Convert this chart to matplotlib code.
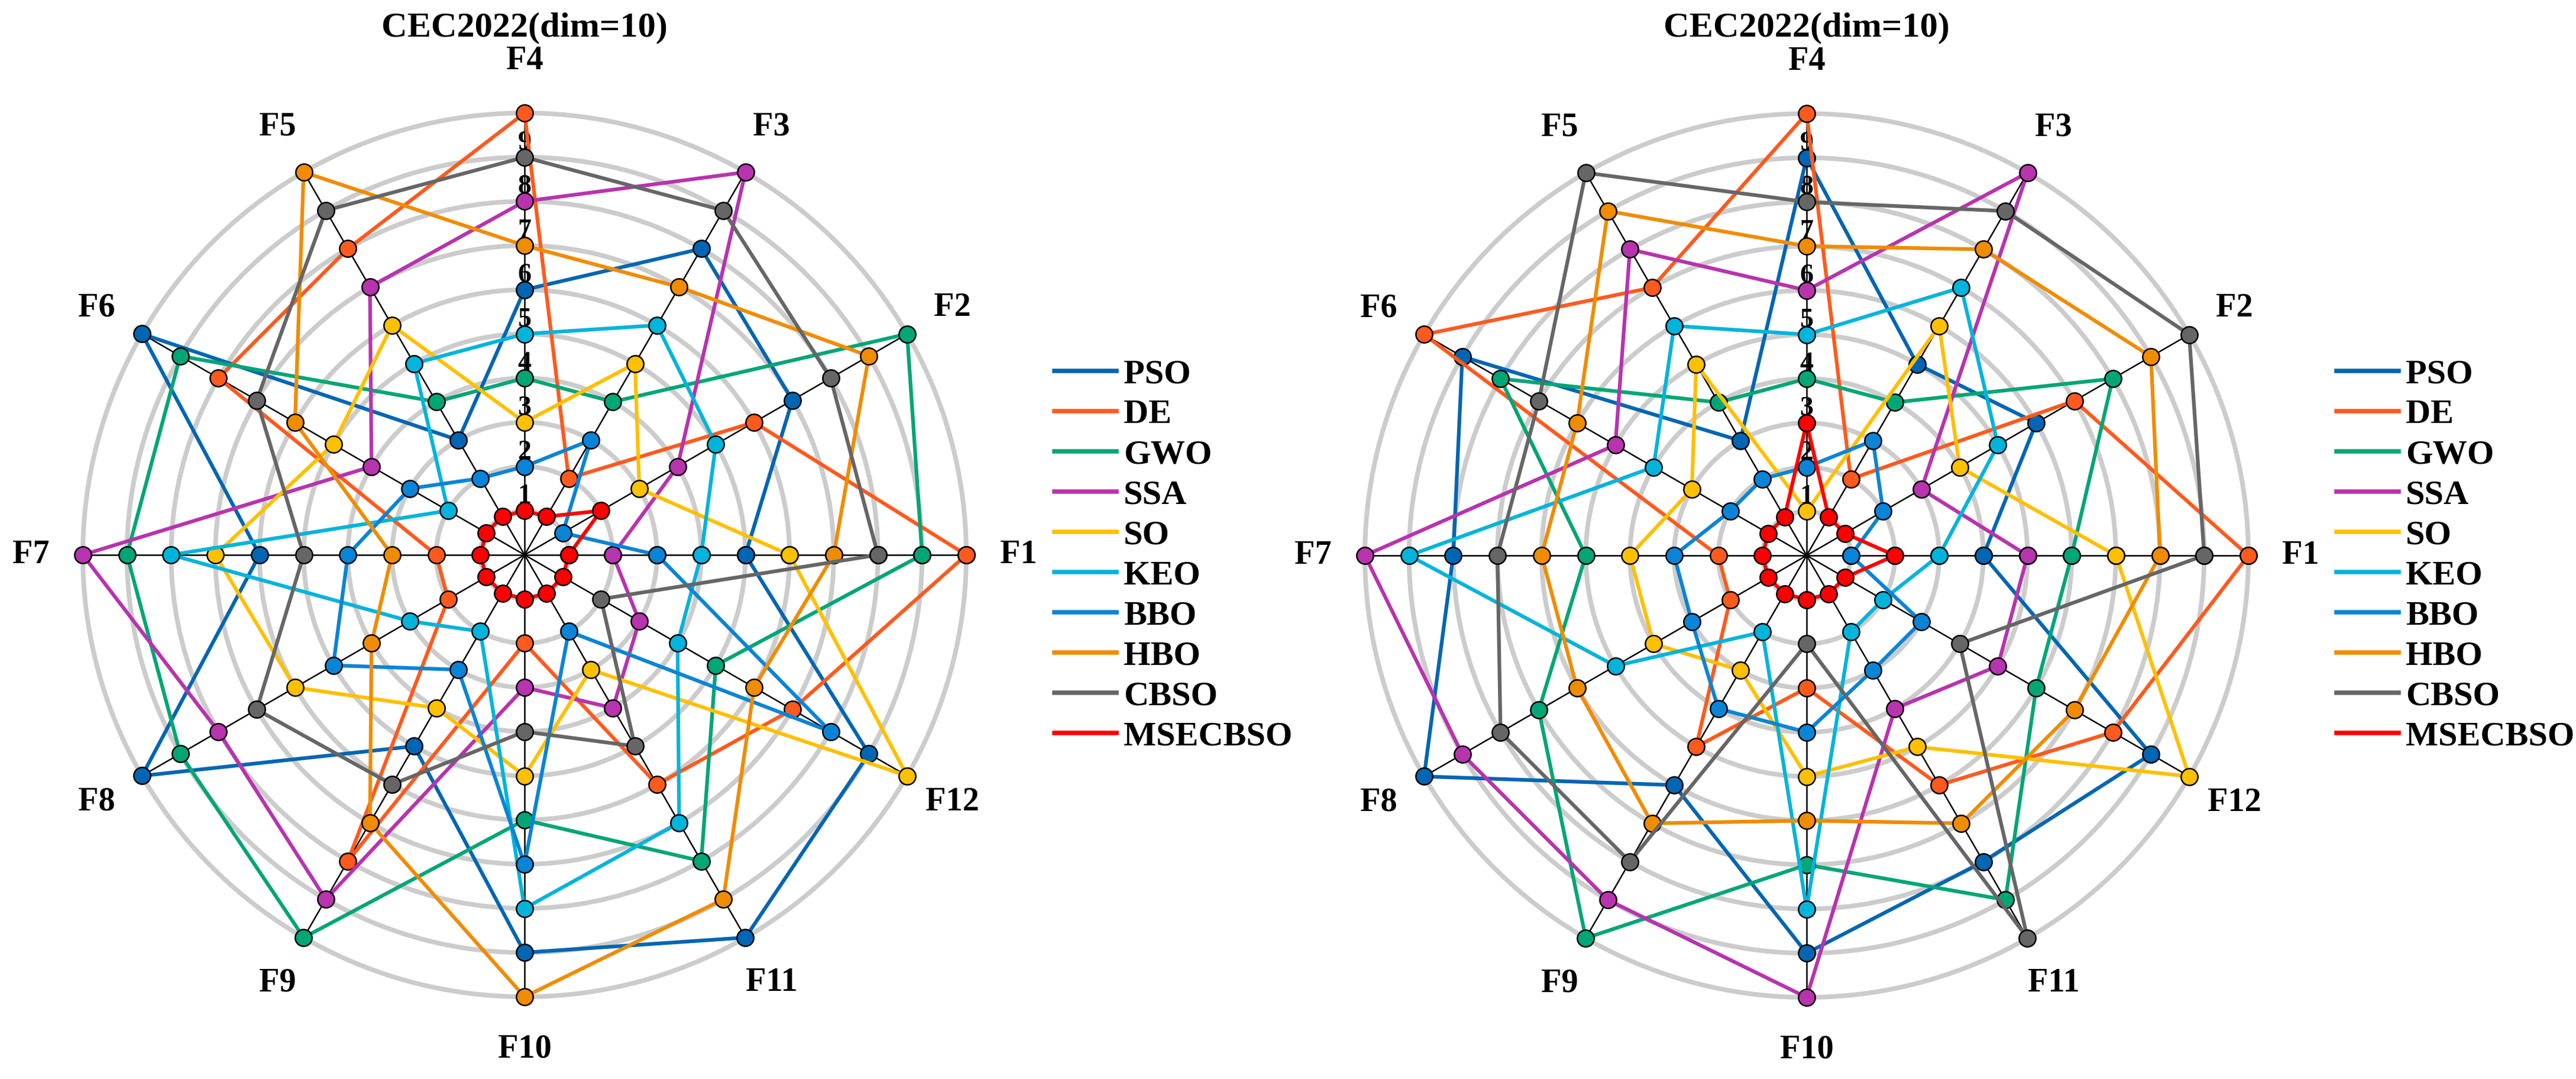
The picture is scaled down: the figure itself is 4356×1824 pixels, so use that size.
import numpy as np
import matplotlib
matplotlib.use("Agg")
import matplotlib.pyplot as plt
from matplotlib.lines import Line2D

plt.rcParams['font.family'] = ['Liberation Serif', 'DejaVu Serif']
plt.rcParams['font.weight'] = 'bold'

# functions on the spokes, counter-clockwise from the right
functions = ['F1', 'F2', 'F3', 'F4', 'F5', 'F6', 'F7', 'F8', 'F9', 'F10', 'F11', 'F12']
algorithms = ['PSO', 'DE', 'GWO', 'SSA', 'SO', 'KEO', 'BBO', 'HBO', 'CBSO', 'MSECBSO']
colors = ['#0066B3', '#FF5A1E', '#00A676', '#B833AE', '#FFC000',
          '#00B4DC', '#0A84D6', '#F08C00', '#666666', '#FF0000']
title = 'CEC2022(dim=10)'

# ranks
left_pso = [5, 7, 8, 6, 3, 10, 6, 10, 5, 9, 10, 9]
left_de = [10, 6, 2, 10, 8, 8, 2, 2, 8, 2, 6, 7]
left_gwo = [9, 10, 4, 4, 4, 9, 9, 9, 10, 6, 8, 5]
left_ssa = [2, 4, 10, 8, 7, 4, 10, 8, 9, 3, 4, 3]
left_so = [6, 3, 5, 3, 6, 5, 7, 6, 4, 5, 3, 10]
left_keo = [4, 5, 6, 5, 5, 2, 8, 3, 2, 8, 7, 4]
left_bbo = [3, 1, 3, 2, 2, 3, 4, 5, 3, 7, 2, 8]
left_hbo = [7, 9, 7, 7, 10, 6, 3, 4, 7, 10, 9, 6]
left_cbso = [8, 8, 9, 9, 9, 7, 5, 7, 6, 4, 5, 2]
left_msecbso = [1, 2, 1, 1, 1, 1, 1, 1, 1, 1, 1, 1]

# ranks
right_pso = [4, 6, 5, 9, 3, 9, 8, 10, 6, 9, 8, 9]
right_de = [10, 7, 2, 10, 7, 10, 2, 2, 5, 3, 6, 8]
right_gwo = [6, 8, 4, 4, 4, 8, 5, 7, 10, 7, 9, 6]
right_ssa = [5, 3, 10, 6, 8, 5, 10, 9, 9, 10, 4, 5]
right_so = [7, 4, 6, 1, 5, 3, 4, 4, 3, 5, 5, 10]
right_keo = [3, 5, 7, 5, 6, 4, 9, 5, 2, 8, 2, 2]
right_bbo = [1, 2, 3, 2, 2, 2, 3, 3, 4, 4, 3, 3]
right_hbo = [8, 9, 8, 7, 9, 6, 6, 6, 7, 6, 7, 7]
right_cbso = [9, 10, 9, 8, 10, 7, 7, 8, 8, 2, 10, 4]
right_msecbso = [2, 1, 1, 3, 1, 1, 1, 1, 1, 1, 1, 1]

left_ranks = [left_pso, left_de, left_gwo, left_ssa, left_so,
              left_keo, left_bbo, left_hbo, left_cbso, left_msecbso]
right_ranks = [right_pso, right_de, right_gwo, right_ssa, right_so,
               right_keo, right_bbo, right_hbo, right_cbso, right_msecbso]

rank_ticks = [1, 2, 3, 4, 5, 6, 7, 8, 9, 10]
rank_labels = ['1', '2', '3', '4', '5', '6', '7', '8', '9', '']

W, H = 4356, 1824
fig = plt.figure(figsize=(W / 300, H / 300), dpi=300)

R = 747      # pixels for rank 10
RMAX = 10.4  # a little room so the outer ring and markers are not clipped


def radar(cx, cy, ranks):
    r_box = R * RMAX / 10
    ax = fig.add_axes([(cx - r_box) / W, (H - cy - r_box) / H, 2 * r_box / W, 2 * r_box / H],
                      polar=True)
    ax.set_ylim(0, RMAX)
    ax.spines['polar'].set_visible(False)
    ax.patch.set_alpha(0)

    angles = np.linspace(0, 2 * np.pi, len(functions), endpoint=False)

    ax.set_xticks(angles)
    ax.set_xticklabels([])
    ax.xaxis.grid(False)
    ax.set_yticks(rank_ticks)
    ax.set_yticklabels([])
    ax.yaxis.grid(True, color='#cccccc', linewidth=1.9)

    # black spokes
    for a in angles:
        ax.plot([a, a], [0, 10], color='black', linewidth=0.6, zorder=1.8)

    # rank numbers along F4
    for t, lab in zip(rank_ticks, rank_labels):
        ax.text(np.pi / 2, t + 0.32, lab, ha='center', va='center',
                fontsize=11, fontweight='bold', zorder=1.7)

    # function names
    for a, f in zip(angles, functions):
        ax.text(a, 11.18, f, ha='center', va='center', fontsize=13.5,
                fontweight='bold', clip_on=False)

    closed = np.concatenate([angles, angles[:1]])
    for vals, c in zip(ranks, colors):
        v = list(vals) + [vals[0]]
        ax.plot(closed, v, color=c, linewidth=1.5, marker='o', markersize=6.8,
                markerfacecolor=c, markeredgecolor='black', markeredgewidth=0.6,
                zorder=2.5, clip_on=False)
    return ax


radar(887, 938, left_ranks)
radar(3055, 939, right_ranks)

fig.text(887 / W, 1 - 47 / H, title, ha='center', va='center', fontsize=14.5, fontweight='bold')
fig.text(3055 / W, 1 - 47 / H, title, ha='center', va='center', fontsize=14.5, fontweight='bold')

handles = [Line2D([], [], color=c, linewidth=1.8) for c in colors]
for lx in [1783, 3951]:
    fig.legend(handles, algorithms, loc='center left', bbox_to_anchor=(lx / W, 1 - 939 / H),
               frameon=False, handlelength=1.8, handletextpad=0.2,
               labelspacing=0.26, borderpad=0, borderaxespad=0,
               prop={'weight': 'bold', 'size': 14})

fig.savefig('out.png', dpi=300)
